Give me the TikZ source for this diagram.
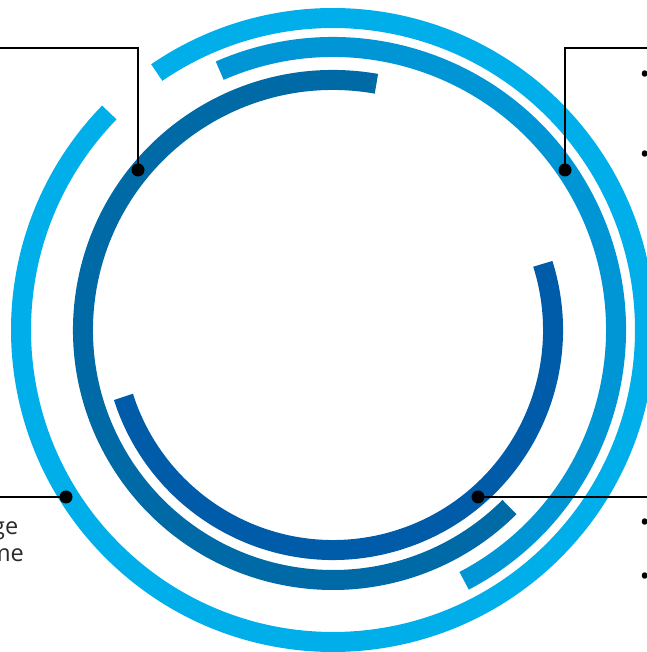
\documentclass[tikz,border=0pt]{standalone}
\usepackage{fontspec}
\setmainfont{Open Sans}
\usepackage{xcolor}
\usetikzlibrary{positioning}
\usetikzlibrary{calc}
\definecolor{ringsky}{HTML}{00AEEA}
\definecolor{ringmid}{HTML}{0096D6}
\definecolor{ringsteel}{HTML}{006AA6}
\definecolor{ringdeep}{HTML}{005CA9}
\definecolor{inktext}{HTML}{2B2B2B}
\tikzset{
  % A thick ring segment, cut square at both ends
  ring/.style={line width=20pt, line cap=butt, draw=#1},
  % The dot where a leader line meets a ring
  pin/.style={circle, fill=black, inner sep=0pt, minimum size=13pt},
  % Leader lines out to the (cropped) captions
  leader/.style={draw=black, line width=2pt},
  snippet/.style={font=\fontsize{23.5}{27}\selectfont, text=inktext, inner sep=0pt},
  bullet/.style={font=\fontsize{26}{30}\selectfont, text=black, inner sep=0pt},
}

\begin{document}
\begin{tikzpicture}[x=1pt, y=1pt]

  \useasboundingbox (0,0) rectangle (646,652);
  \coordinate (c) at (333,322);

  % the four rings, outside in
  \draw[ring=ringsky]   (c) ++(135.8:312) arc[start angle=135.8, end angle=484.4, radius=312];
  \draw[ring=ringmid]   (c) ++(-62.4:283) arc[start angle=-62.4, end angle=113.6, radius=283];
  \draw[ring=ringsteel] (c) ++(80:250)    arc[start angle=80,    end angle=314.9, radius=250];
  \draw[ring=ringdeep]  (c) ++(197.7:220) arc[start angle=197.7, end angle=377.5, radius=220];

  \node[pin] (pinsteel) at (138,482) {};
  \node[pin] (pinmid)   at (565,482) {};
  \node[pin] (pinsky)   at (66,155)  {};
  \node[pin] (pindeep)  at (478,155) {};

  \coordinate (tlend) at (-2,604);
  \coordinate (trend) at (648,604);
  \coordinate (blend) at (-2,155);
  \coordinate (brend) at (648,155);

  \draw[leader] (tlend) -| (pinsteel.center);
  \draw[leader] (trend) -| (pinmid.center);
  \draw[leader] (blend) -- (pinsky.center);
  \draw[leader] (pindeep.center) -- (brend);

  \node[snippet, anchor=base east] (capge) at (18.5,117) {ge};
  \node[snippet, anchor=base east] (capme) at (24,90.3) {me};

  \node[bullet] (bulA) at (644.8,575.2) {•};
  \node[bullet] (bulB) at (644.8,495.2) {•};
  \node[bullet] (bulC) at (644.8,126.8) {•};
  \node[bullet] (bulD) at (644.8,72.8)  {•};

\end{tikzpicture}
\end{document}
